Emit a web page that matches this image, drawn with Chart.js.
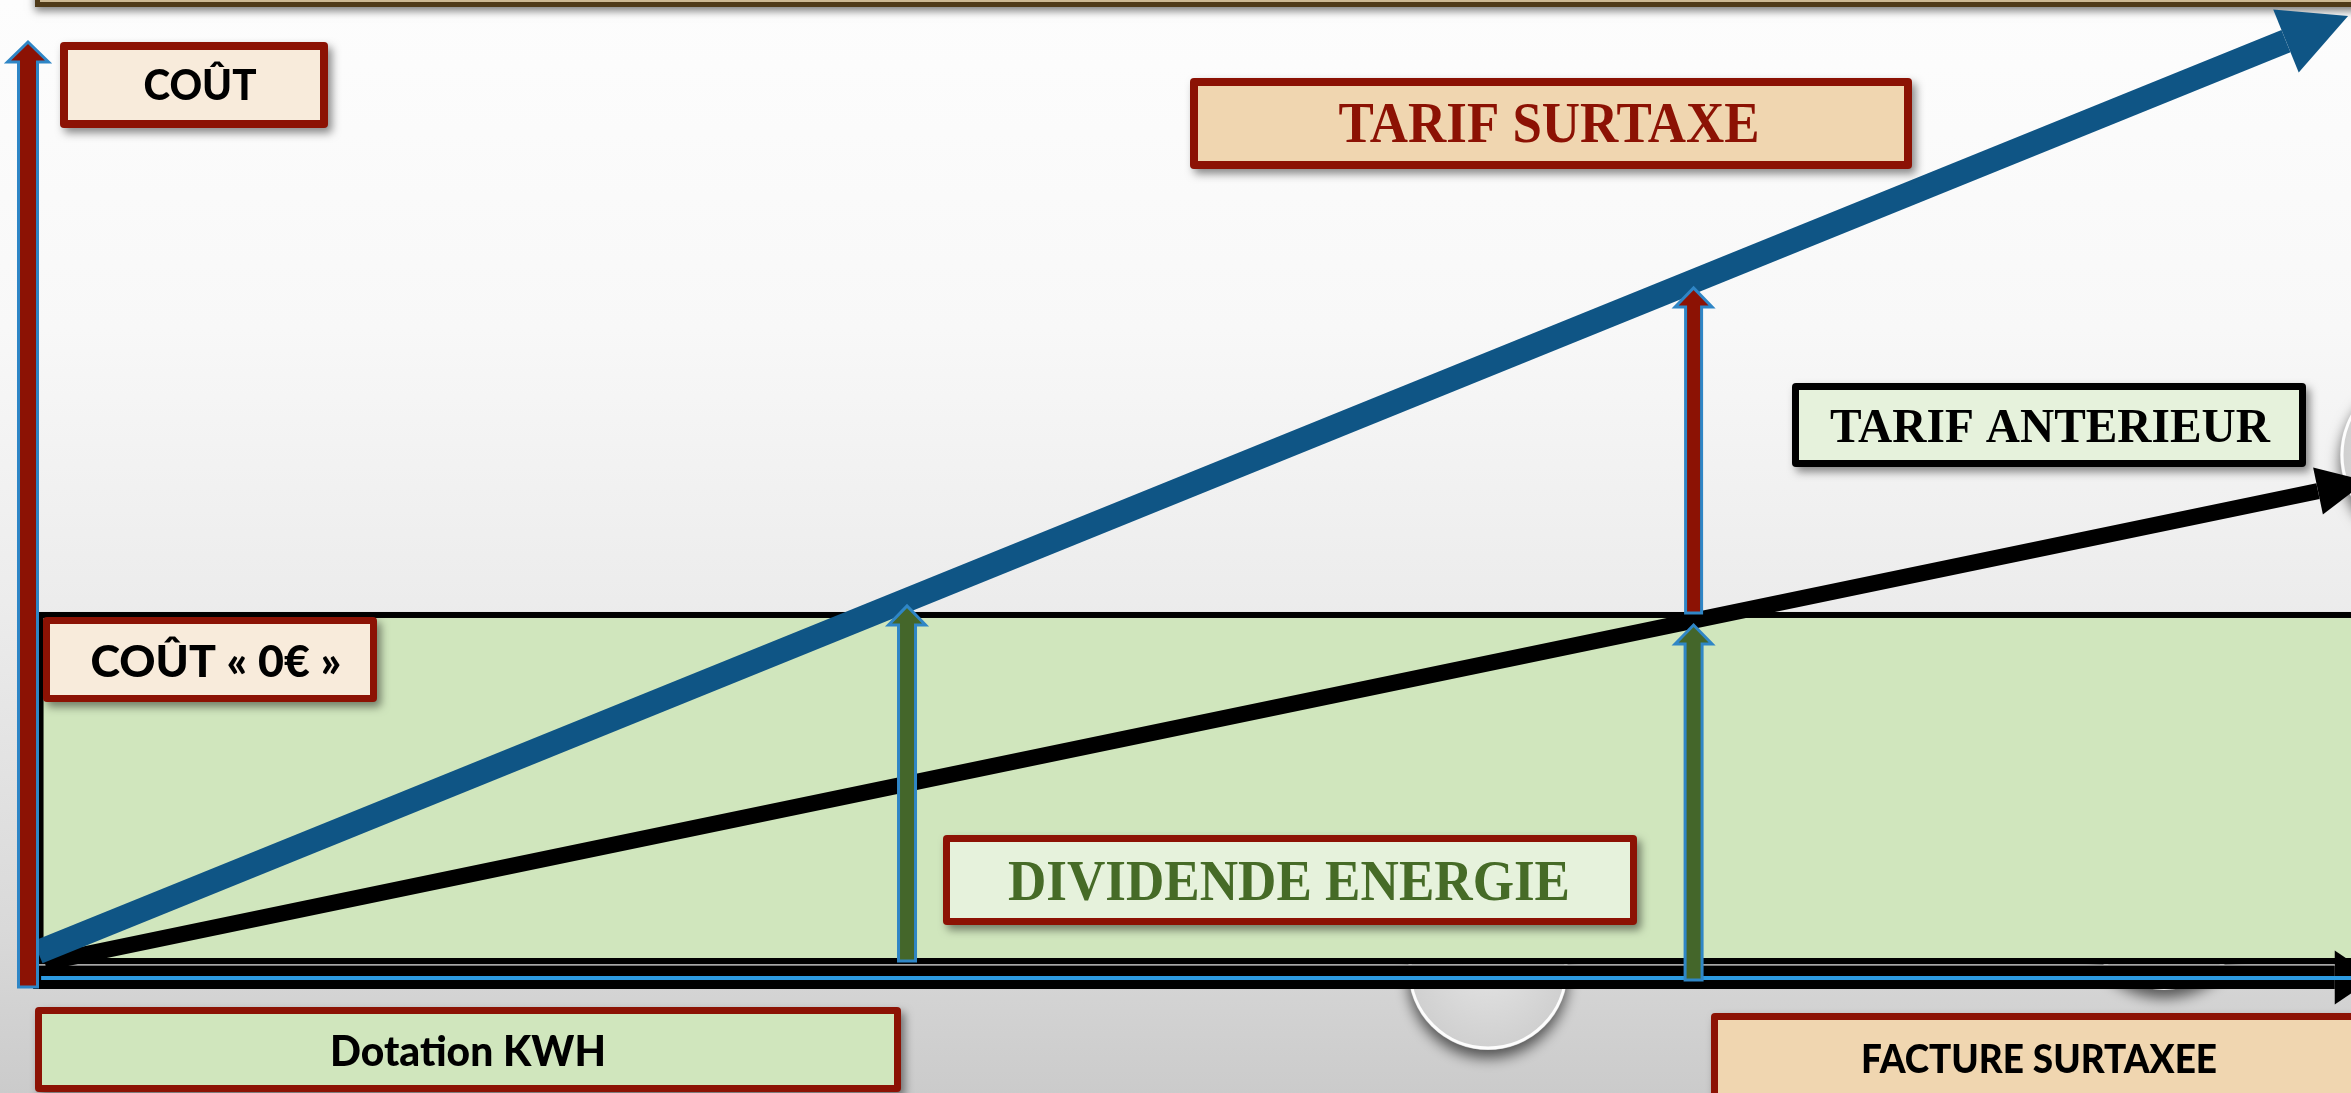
<!DOCTYPE html>
<html lang="fr">
<head>
<meta charset="utf-8">
<title>Dotation KWH - tarif surtaxe</title>
<script src="https://cdn.jsdelivr.net/npm/chart.js@4.4.1/dist/chart.umd.min.js"></script>
<style>
  html, body { margin: 0; padding: 0; overflow: hidden; background: #f4f4f4; }
  #wrap { width: 2351px; height: 1093px; }
</style>
</head>
<body>
<div id="wrap"><canvas id="schema" width="2351" height="1093"></canvas></div>
<script>
// Courbes de cout (x = consommation, y = cout, unites arbitraires)
const surtaxeX = [0.43, 97.2];
const surtaxeY = [2.72, 99.89];
const anterieurX = [0.73, 98.58];
const anterieurY = [1.59, 51.89];

// Zone "Dotation KWH" : cout 0 euro
const dotationX = [0.54, 101];
const dotationY = [1.76, 38.67];

// Fleches verticales (dividende energie / ecart surtaxe)
const dividendeX = [37.84, 71.7];
const dividendeFrom = [1.76, -0.27];
const dividendeTo = [39.84, 37.81];
const ecartX = [71.7];
const ecartFrom = [38.88];
const ecartTo = [73.76];

// Axes
const axeCoutY = [-1.01, 100];
const axeKwhX = [0.22, 99.3];

const labels = ['COÛT', 'TARIF SURTAXE', 'TARIF ANTERIEUR', 'COÛT « 0€ »', 'DIVIDENDE ENERGIE', 'Dotation KWH', 'FACTURE SURTAXEE'];

const RED = '#8c1204';
const OUTLINE = '#2f86c6';
const GREEN = '#44662a';

// mise en page des etiquettes
const boxes = [
  { x: 60, y: 42, w: 268, h: 86, fill: '#f8ebdb', border: RED, bw: 8, color: '#000', font: '900 42px Lato', cx: 200, base: 100, tw: 113 },
  { x: 1190, y: 78, w: 722, h: 91, fill: '#f0d6b0', border: RED, bw: 8, color: RED, font: 'bold 57px "Liberation Serif"', cx: 1549, base: 142, tw: 421 },
  { x: 1792, y: 383, w: 514, h: 84, fill: '#e6f2dc', border: '#000', bw: 7, color: '#000', font: 'bold 49px "Liberation Serif"', cx: 2050, base: 442, tw: 440 },
  { x: 43, y: 617, w: 334, h: 85, fill: '#f8ebdb', border: RED, bw: 7, color: '#000', font: '900 44px Lato', cx: 216, base: 677, tw: 251 },
  { x: 943, y: 835, w: 694, h: 90, fill: '#e6f2dc', border: RED, bw: 7, color: '#466b27', font: 'bold 57px "Liberation Serif"', cx: 1289, base: 900, tw: 562 },
  { x: 35, y: 1007, w: 866, h: 85, fill: '#d0e6bd', border: RED, bw: 7, color: '#000', font: '900 42px Lato', cx: 468, base: 1066, tw: 276 },
  { x: 1711, y: 1013, w: 700, h: 100, fill: '#f0d6b0', border: RED, bw: 7, color: '#000', font: '900 39px Lato', cx: 2039, base: 1073, tw: 356 }
];

function roundRect(ctx, x, y, w, h, r) {
  ctx.beginPath();
  ctx.moveTo(x + r, y);
  ctx.arcTo(x + w, y, x + w, y + h, r);
  ctx.arcTo(x + w, y + h, x, y + h, r);
  ctx.arcTo(x, y + h, x, y, r);
  ctx.arcTo(x, y, x + w, y, r);
  ctx.closePath();
}

function drawBox(ctx, b, text) {
  ctx.save();
  ctx.shadowColor = 'rgba(0,0,0,0.45)';
  ctx.shadowBlur = 9;
  ctx.shadowOffsetX = 4;
  ctx.shadowOffsetY = 5;
  ctx.fillStyle = b.border;
  roundRect(ctx, b.x, b.y, b.w, b.h, 4);
  ctx.fill();
  ctx.restore();
  ctx.fillStyle = b.fill;
  ctx.fillRect(b.x + b.bw, b.y + b.bw, b.w - 2 * b.bw, b.h - 2 * b.bw);
  // texte ajuste a la largeur
  ctx.save();
  ctx.font = b.font;
  ctx.fillStyle = b.color;
  ctx.textAlign = 'center';
  ctx.textBaseline = 'alphabetic';
  const m = ctx.measureText(text).width;
  ctx.translate(b.cx, b.base);
  ctx.scale(b.tw / m, 1);
  ctx.fillText(text, 0, 0);
  ctx.restore();
}

// fleche pleine verticale avec contour bleu
function blockArrow(ctx, x, yb, yt, sw, hw, hl, color) {
  ctx.beginPath();
  ctx.moveTo(x - sw, yb);
  ctx.lineTo(x - sw, yt + hl);
  ctx.lineTo(x - hw, yt + hl);
  ctx.lineTo(x, yt);
  ctx.lineTo(x + hw, yt + hl);
  ctx.lineTo(x + sw, yt + hl);
  ctx.lineTo(x + sw, yb);
  ctx.closePath();
  ctx.fillStyle = color;
  ctx.fill();
  ctx.lineWidth = 3;
  ctx.strokeStyle = OUTLINE;
  ctx.stroke();
}

function head(ctx, bx, by, ux, uy, len, half, color) {
  ctx.beginPath();
  ctx.moveTo(bx + ux * len, by + uy * len);
  ctx.lineTo(bx - uy * half, by + ux * half);
  ctx.lineTo(bx + uy * half, by - ux * half);
  ctx.closePath();
  ctx.fillStyle = color;
  ctx.fill();
}

function circle(ctx, cx, cy, r) {
  ctx.save();
  ctx.shadowColor = 'rgba(0,0,0,0.6)';
  ctx.shadowBlur = 14;
  ctx.shadowOffsetY = 8;
  const g = ctx.createRadialGradient(cx, cy - r * 0.2, r * 0.1, cx, cy, r);
  g.addColorStop(0, '#e4e4e4');
  g.addColorStop(1, '#cfcfcf');
  ctx.fillStyle = g;
  ctx.beginPath();
  ctx.arc(cx, cy, r, 0, Math.PI * 2);
  ctx.fill();
  ctx.restore();
  ctx.strokeStyle = 'rgba(255,255,255,0.95)';
  ctx.lineWidth = 3;
  ctx.beginPath();
  ctx.arc(cx, cy, r - 2, 0, Math.PI * 2);
  ctx.stroke();
}

const schema = {
  id: 'schema',
  beforeDraw(chart) {
    const { ctx, width, height } = chart;
    const g = ctx.createLinearGradient(0, 0, 0, height);
    g.addColorStop(0, '#fdfdfd');
    g.addColorStop(0.3, '#f8f8f8');
    g.addColorStop(0.55, '#ececec');
    g.addColorStop(0.85, '#d9d9d9');
    g.addColorStop(1, '#cbcbcb');
    ctx.fillStyle = g;
    ctx.fillRect(0, 0, width, height);
  },
  beforeDatasetsDraw(chart) {
    const { ctx } = chart;
    const sx = chart.scales.x, sy = chart.scales.y;
    ctx.save();
    // pastilles decoratives
    circle(ctx, 1488, 970, 80);
    circle(ctx, 2164, 905, 85);
    circle(ctx, 2425, 455, 85);

    // bandeau haut
    ctx.save();
    ctx.shadowColor = 'rgba(0,0,0,0.5)';
    ctx.shadowBlur = 8;
    ctx.shadowOffsetY = 4;
    ctx.fillStyle = '#4f3a19';
    ctx.fillRect(35, -20, 2330, 27);
    ctx.restore();
    ctx.fillStyle = '#cdb994';
    ctx.fillRect(40, -20, 2330, 22);

    // zone dotation (cout 0)
    const x0 = sx.getPixelForValue(dotationX[0]), x1 = sx.getPixelForValue(dotationX[1]);
    const yTop = sy.getPixelForValue(dotationY[1]), yBot = sy.getPixelForValue(dotationY[0]);
    ctx.fillStyle = '#d0e6bd';
    ctx.fillRect(x0, yTop, x1 - x0, yBot - yTop);
    ctx.lineWidth = 6;
    ctx.strokeStyle = '#000';
    ctx.strokeRect(x0, yTop, x1 - x0, yBot - yTop);

    // axe des kWh
    const ay = sy.getPixelForValue(0);
    const ax0 = sx.getPixelForValue(axeKwhX[0]), ax1 = sx.getPixelForValue(axeKwhX[1]);
    ctx.fillStyle = '#000';
    ctx.fillRect(ax0, ay - 11.5, ax1 - ax0, 23);
    head(ctx, ax1, ay, 1, 0, 40, 27, '#000');
    ctx.fillStyle = '#777';
    ctx.fillRect(ax0, ay - 13, ax1 - ax0, 1.5);
    ctx.fillStyle = '#2d9be2';
    ctx.fillRect(ax0 + 8, ay - 1.5, chart.width, 4);
    ctx.restore();
  },
  afterDatasetsDraw(chart) {
    const { ctx } = chart;
    const sx = chart.scales.x, sy = chart.scales.y;
    ctx.save();
    // pointes des courbes
    const heads = [{ len: 67, half: 34 }, { len: 50, half: 24 }];
    chart.data.datasets.forEach((ds, i) => {
      const pts = chart.getDatasetMeta(i).data;
      const a = pts[pts.length - 2], b = pts[pts.length - 1];
      const dx = b.x - a.x, dy = b.y - a.y, l = Math.hypot(dx, dy);
      head(ctx, b.x, b.y, dx / l, dy / l, heads[i].len, heads[i].half, ds.borderColor);
    });

    // fleches dividende energie
    dividendeX.forEach((v, i) => {
      blockArrow(ctx, sx.getPixelForValue(v), sy.getPixelForValue(dividendeFrom[i]),
        sy.getPixelForValue(dividendeTo[i]) + 2, 8.5, 18.5, 19, GREEN);
    });
    // fleche ecart surtaxe
    ecartX.forEach((v, i) => {
      blockArrow(ctx, sx.getPixelForValue(v), sy.getPixelForValue(ecartFrom[i]),
        sy.getPixelForValue(ecartTo[i]) + 2, 8, 18.5, 19, RED);
    });

    // axe des couts
    blockArrow(ctx, sx.getPixelForValue(0), sy.getPixelForValue(axeCoutY[0]),
      sy.getPixelForValue(axeCoutY[1]) + 2, 9.5, 20.5, 20, RED);

    boxes.forEach((b, i) => drawBox(ctx, b, labels[i]));
    ctx.restore();
  }
};

new Chart(document.getElementById('schema'), {
  type: 'scatter',
  data: {
    datasets: [
      {
        label: labels[1],
        data: surtaxeX.map((x, i) => ({ x, y: surtaxeY[i] })),
        showLine: true,
        borderColor: '#0f5585',
        borderWidth: 24,
        pointRadius: 0
      },
      {
        label: labels[2],
        data: anterieurX.map((x, i) => ({ x, y: anterieurY[i] })),
        showLine: true,
        borderColor: '#000000',
        borderWidth: 16,
        pointRadius: 0
      }
    ]
  },
  options: {
    responsive: false,
    animation: false,
    devicePixelRatio: 1,
    events: [],
    layout: { padding: 0 },
    plugins: { legend: { display: false }, tooltip: { enabled: false } },
    scales: {
      x: { type: 'linear', min: -1.2053, max: 100, display: false },
      y: { type: 'linear', min: -12.32, max: 104.27, display: false }
    }
  },
  plugins: [schema]
});
</script>
</body>
</html>
